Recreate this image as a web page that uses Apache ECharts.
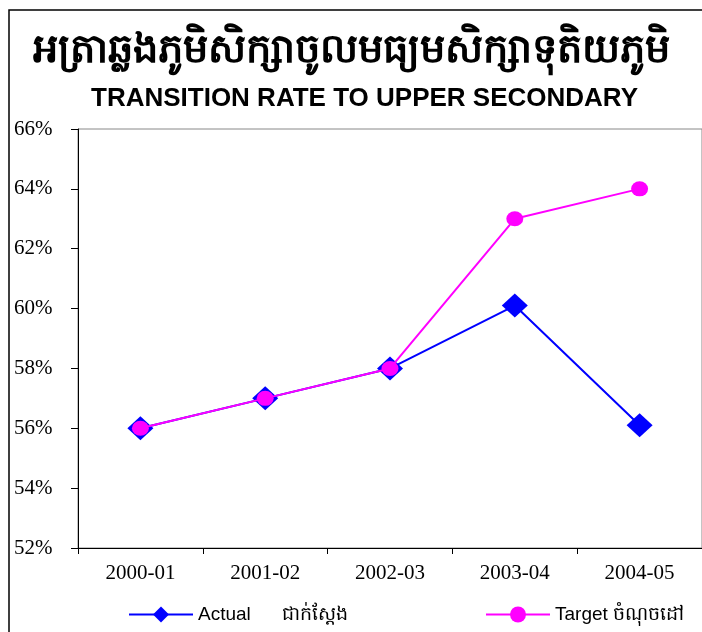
<!DOCTYPE html>
<html>
<head>
<meta charset="utf-8">
<script src="https://cdn.jsdelivr.net/npm/echarts@6/dist/echarts.min.js"></script>
<style>
  html, body { margin: 0; padding: 0; background: #fff; }
  #chart { width: 702px; height: 632px; }
</style>
</head>
<body>
<div id="chart"></div>
<script>
  // school years on the x axis
  var years = ['2000-01', '2001-02', '2002-03', '2003-04', '2004-05'];
  // transition rate, in percent
  var actual = [56, 57, 58, 60.1, 56.1];
  var target = [56, 57, 58, 63, 64];
  var yTicks = { min: 52, max: 66, step: 2 };

  var chart = echarts.init(document.getElementById('chart'));

  var option = {
    backgroundColor: '#fff',
    animation: false,
    title: [{
      text: 'អត្រាឆ្លងភូមិសិក្សាចូលមធ្យមសិក្សាទុតិយភូមិ',
      left: 'center',
      top: 26,
      textStyle: { fontSize: 40, fontWeight: 'bold', color: '#000', fontFamily: 'Noto Sans, DejaVu Sans' }
    }, {
      text: 'TRANSITION RATE TO UPPER SECONDARY',
      left: 86,
      top: 81,
      textStyle: { fontSize: 26, fontWeight: 'bold', color: '#000', fontFamily: 'Liberation Sans, Arial' }
    }],
    graphic: [{
      type: 'rect',
      shape: { x: 9, y: 10, width: 800, height: 800 },
      style: { fill: 'none', stroke: '#000', lineWidth: 1.5 },
      silent: true
    }],
    legend: [{
      data: [{ name: 'Actual      ជាក់ស្តែង' }],
      left: 123,
      top: 600,
      itemWidth: 64,
      itemHeight: 20,
      textStyle: { fontSize: 19, color: '#000', fontFamily: 'Liberation Sans, Arial' }
    }, {
      data: [{ name: 'Target ចំណុចដៅ' }],
      left: 480,
      top: 600,
      itemWidth: 64,
      itemHeight: 20,
      textStyle: { fontSize: 19, color: '#000', fontFamily: 'Liberation Sans, Arial' }
    }],
    grid: {
      left: 78,
      top: 129,
      width: 629,
      bottom: 84,
      show: true,
      borderColor: '#888',
      borderWidth: 1
    },
    xAxis: {
      type: 'category',
      data: years,
      boundaryGap: true,
      axisLine: { lineStyle: { color: '#000', width: 1 } },
      axisTick: { show: true, length: 6, lineStyle: { color: '#000' } },
      axisLabel: { color: '#000', fontSize: 21, margin: 15, fontFamily: 'Liberation Serif, Times New Roman' },
      splitLine: { show: false }
    },
    yAxis: {
      type: 'value',
      min: yTicks.min,
      max: yTicks.max,
      interval: yTicks.step,
      axisLine: { show: true, lineStyle: { color: '#000', width: 1 } },
      axisTick: { show: true, length: 7, lineStyle: { color: '#000' } },
      axisLabel: {
        color: '#000', fontSize: 21, align: 'left', margin: 64,
        fontFamily: 'Liberation Serif, Times New Roman',
        formatter: '{value}%'
      },
      splitLine: { show: false }
    },
    series: [{
      name: 'Actual      ជាក់ស្តែង',
      type: 'line',
      data: actual,
      symbol: 'diamond',
      symbolSize: [26, 24],
      lineStyle: { color: '#0000ff', width: 2 },
      itemStyle: { color: '#0000ff' },
      z: 2
    }, {
      name: 'Target ចំណុចដៅ',
      type: 'line',
      data: target,
      symbol: 'circle',
      symbolSize: [17, 15],
      lineStyle: { color: '#ff00ff', width: 2 },
      itemStyle: { color: '#ff00ff' },
      z: 3
    }]
  };

  chart.setOption(option);
</script>
</body>
</html>
